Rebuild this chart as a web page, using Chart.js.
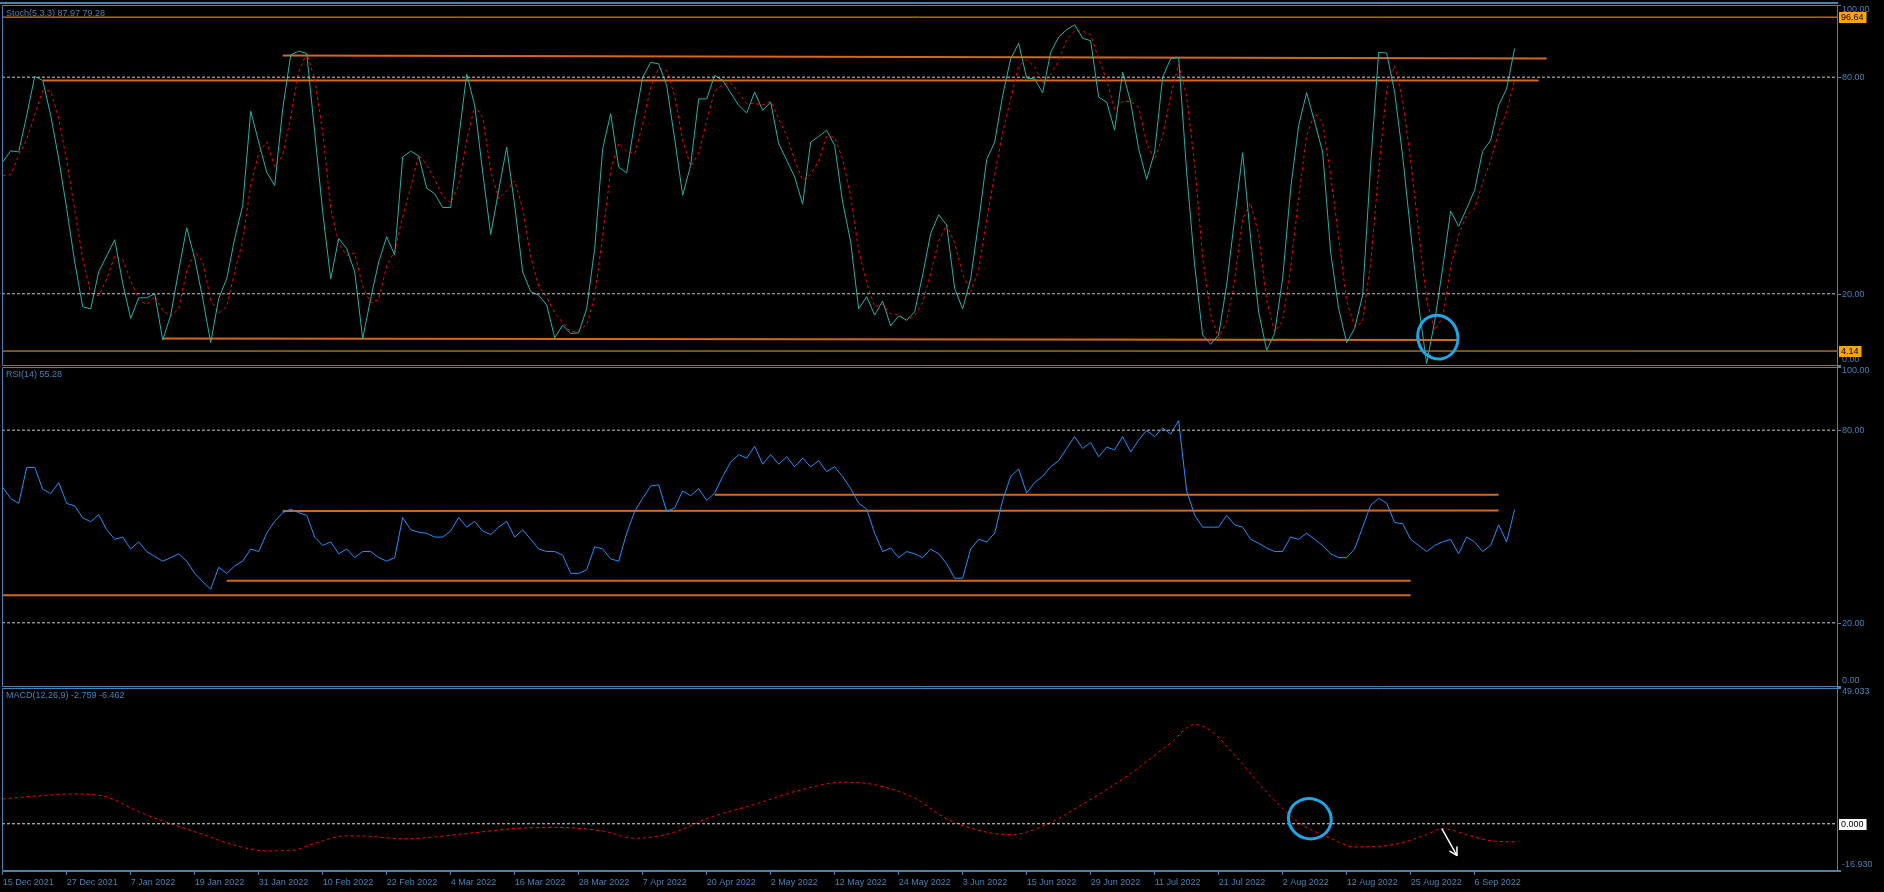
<!DOCTYPE html>
<html>
<head>
<meta charset="utf-8">
<title>Stoch / RSI / MACD</title>
<script src="https://cdn.jsdelivr.net/npm/chart.js@4.4.1/dist/chart.umd.min.js"></script>
<style>
  html, body { margin: 0; padding: 0; background: #000; overflow: hidden; }
  canvas { display: block; }
</style>
</head>
<body>
<canvas id="chart" width="1884" height="892"></canvas>
<script>
// Date labels, one every 8 bars
const dateLabels = [
    "15 Dec 2021", "27 Dec 2021", "7 Jan 2022", "19 Jan 2022", "31 Jan 2022", "10 Feb 2022",
    "22 Feb 2022", "4 Mar 2022", "16 Mar 2022", "28 Mar 2022", "7 Apr 2022", "20 Apr 2022",
    "2 May 2022", "12 May 2022", "24 May 2022", "3 Jun 2022", "15 Jun 2022", "29 Jun 2022",
    "11 Jul 2022", "21 Jul 2022", "2 Aug 2022", "12 Aug 2022", "25 Aug 2022", "6 Sep 2022"
];
const BARS_PER_LABEL = 8;

// Stochastic %K (main) and %D (signal), one value per bar
const stochMain = [
    56.5, 59.6, 59.3, 69.4, 80.2, 79.1, 69.4, 57.4, 43.6, 28.8,
    16.4, 15.8, 26.1, 30.5, 35.0, 22.9, 13.2, 18.9, 18.9, 20.0,
    7.2, 14.1, 26.5, 38.3, 29.8, 18.7, 6.5, 18.7, 24.2, 35.3,
    44.5, 70.6, 62.0, 53.7, 50.0, 71.2, 86.2, 87.2, 86.6, 64.8,
    42.7, 24.1, 35.3, 32.5, 26.1, 7.6, 18.7, 28.8, 35.8, 30.7,
    57.9, 59.5, 58.2, 49.3, 47.7, 43.9, 43.9, 62.9, 80.9, 72.2,
    53.7, 36.4, 48.7, 60.6, 44.5, 26.1, 20.6, 19.6, 16.9, 7.8,
    11.3, 9.0, 9.2, 15.9, 32.5, 60.2, 69.9, 55.1, 53.5, 67.6,
    80.0, 84.1, 83.7, 77.7, 62.9, 47.3, 55.6, 74.0, 74.0, 80.5,
    79.1, 75.7, 72.2, 70.1, 75.9, 70.8, 73.1, 61.6, 57.0, 52.4,
    44.8, 62.0, 63.6, 65.3, 61.1, 45.4, 34.4, 15.8, 19.2, 14.1,
    18.0, 11.1, 13.9, 12.7, 15.0, 25.2, 36.7, 41.9, 39.0, 21.5,
    15.8, 24.2, 39.9, 57.2, 62.0, 74.9, 85.1, 89.4, 79.8, 79.5,
    75.7, 86.9, 91.1, 93.2, 94.5, 90.8, 90.1, 74.5, 73.1, 65.3,
    81.4, 73.1, 60.2, 51.7, 59.3, 80.0, 85.1, 85.5, 53.7, 27.9,
    8.6, 6.0, 8.6, 22.4, 40.8, 59.1, 35.3, 15.0, 4.4, 9.0,
    24.2, 49.1, 66.6, 75.7, 67.6, 59.3, 31.6, 15.9, 6.5, 10.4,
    19.6, 55.6, 86.9, 86.7, 75.9, 58.3, 37.1, 16.9, 0.7, 12.3,
    27.0, 42.9, 38.7, 43.6, 48.7, 59.5, 62.5, 72.2, 76.8, 87.97
];
const stochSignal = [
    52.8, 53.0, 58.5, 62.8, 69.6, 76.2, 76.2, 68.6, 56.8, 43.3,
    29.6, 20.3, 19.4, 24.1, 30.5, 29.5, 23.7, 18.3, 17.0, 19.3,
    15.4, 13.8, 15.9, 26.3, 31.5, 28.9, 18.3, 14.6, 16.5, 26.1,
    34.7, 50.1, 59.0, 62.1, 55.2, 58.3, 69.1, 81.5, 86.7, 79.5,
    64.7, 43.9, 34.0, 30.6, 31.3, 22.1, 17.5, 18.4, 27.8, 31.8,
    41.5, 49.4, 58.5, 55.7, 51.7, 47.0, 45.2, 50.2, 62.6, 72.0,
    68.9, 54.1, 46.3, 48.6, 51.3, 43.7, 30.4, 22.1, 19.0, 14.8,
    12.0, 9.4, 9.8, 11.4, 19.2, 36.2, 54.2, 61.7, 59.5, 58.7,
    67.0, 77.2, 82.6, 81.8, 74.8, 62.6, 55.3, 59.0, 67.9, 76.2,
    77.9, 78.4, 75.7, 72.7, 72.7, 72.3, 73.3, 68.5, 63.9, 57.0,
    51.4, 53.1, 56.8, 63.6, 63.3, 57.3, 47.0, 31.9, 23.1, 16.4,
    17.1, 14.4, 14.3, 12.6, 13.9, 17.6, 25.6, 34.6, 39.2, 34.1,
    25.4, 20.5, 26.6, 40.4, 53.0, 64.7, 74.0, 83.1, 84.8, 82.9,
    78.3, 80.7, 84.6, 90.4, 92.9, 92.8, 91.8, 85.1, 79.2, 71.0,
    73.3, 73.3, 71.6, 61.7, 57.1, 63.7, 74.8, 83.5, 74.8, 55.7,
    30.1, 14.2, 7.7, 12.3, 23.9, 40.8, 45.1, 36.5, 18.2, 9.5,
    12.5, 27.4, 46.6, 63.8, 70.0, 67.5, 52.8, 35.6, 18.0, 10.9,
    12.2, 28.5, 54.0, 76.4, 83.2, 73.6, 57.1, 37.4, 18.2, 10.0,
    13.3, 27.4, 36.2, 41.7, 43.7, 50.6, 56.9, 64.7, 70.5, 79.28
];

// RSI(14), one value per bar
const rsiValues = [
    62.2, 58.7, 57.2, 68.4, 68.4, 61.6, 60.3, 63.7, 57.2, 56.4,
    52.7, 51.5, 53.7, 49.0, 46.0, 46.7, 43.0, 45.2, 42.2, 40.7,
    39.2, 40.3, 41.5, 39.2, 35.4, 32.8, 30.5, 37.3, 35.4, 37.7,
    39.2, 43.0, 42.2, 47.9, 51.6, 54.3, 55.4, 54.3, 53.5, 46.7,
    44.1, 45.2, 41.5, 43.0, 40.3, 42.2, 42.2, 40.3, 39.2, 40.3,
    52.8, 49.0, 48.2, 47.9, 46.7, 46.7, 48.6, 52.8, 49.8, 51.6,
    48.6, 47.5, 49.8, 51.6, 46.7, 49.0, 46.0, 43.0, 42.2, 42.2,
    41.1, 35.4, 35.4, 36.5, 43.7, 43.0, 39.9, 39.2, 47.9, 54.7,
    58.8, 62.6, 63.0, 54.7, 55.8, 61.1, 59.6, 61.8, 58.1, 60.4,
    65.6, 70.1, 72.4, 71.3, 75.0, 69.4, 72.4, 69.4, 71.7, 68.6,
    71.3, 68.6, 70.5, 67.1, 68.6, 65.6, 61.8, 57.3, 55.4, 47.9,
    42.2, 43.3, 40.3, 42.2, 41.5, 40.3, 43.0, 41.5, 38.4, 33.9,
    33.9, 43.0, 46.0, 45.2, 47.9, 58.1, 65.6, 67.9, 60.4, 63.7,
    65.6, 68.6, 70.5, 74.3, 78.0, 74.3, 76.2, 71.7, 74.7, 73.9,
    78.0, 73.2, 76.9, 79.9, 78.0, 80.7, 78.8, 83.0, 61.1, 53.5,
    49.8, 49.8, 49.8, 53.5, 50.5, 49.8, 46.0, 44.8, 43.3, 42.2,
    42.2, 46.7, 46.0, 47.9, 46.0, 44.1, 41.5, 40.3, 40.3, 43.0,
    49.8, 56.6, 58.8, 57.3, 51.2, 50.9, 46.0, 44.1, 42.2, 44.1,
    45.2, 46.0, 41.5, 46.7, 45.2, 42.2, 44.1, 50.5, 45.2, 55.28
];

// MACD signal line, read at these bars
const macdBars = [
    0, 4, 9, 13, 17, 21, 25, 29, 33, 36, 39, 43, 46, 50, 58, 64, 69, 75, 79, 84,
    88, 94, 100, 105, 109, 114, 118, 123, 126, 130, 135, 141, 146, 149, 151, 154,
    158, 162, 166, 169, 174, 178, 180, 183, 186, 189
];
const macdSignal = [
    8.9, 9.9, 10.7, 9.6, 4.3, 0.0, -3.8, -7.7, -9.7, -9.6, -7.0, -4.3, -4.5, -5.4, -3.5, -1.7, -1.3, -2.6, -5.2, -3.0,
    1.8, 7.0, 12.3, 14.9, 14.0, 9.2, 1.8, -3.0, -3.9, -0.9, 7.0, 18.0, 29.0, 35.6, 33.4, 24.6,
    11.4, 0.5, -5.2, -8.3, -7.4, -3.9, -1.7, -3.9, -6.1, -6.462
];

// Indicator levels and drawn objects (bar, value)
const stochLevels = [20, 80];
const rsiLevels = [20, 80];
const macdLevels = [0];
const stochHLines = [96.64, 4.14];
// [startBar, startValue, endBar, endValue]
const stochTrendLines = [[5, 79.1, 192, 79.1], [35, 86.0, 193, 85.2], [20, 7.6, 182, 7.2]];
const rsiTrendLines = [[89, 59.9, 187, 59.9], [35, 54.8, 187, 55.0], [28, 33.1, 176, 33.1], [0, 28.6, 176, 28.6]];
const stochCircle = { bar: 179.4, value: 8.0 };
const macdCircle = { bar: 163.4, value: 1.8 };
const macdArrow = { fromBar: 179.9, fromValue: -1.7, toBar: 181.8, toValue: -11.4 };

const AXIS = "#4682B4";
const FONT_FAMILY = '"Liberation Sans", Arial, sans-serif';
const FONT = "9px " + FONT_FAMILY;
const X_MIN = -0.09;
const X_MAX = 229.3;

const panes = [
    { axis: "yStoch", title: "Stoch(5,3,3) 87.97 79.28", labels: [100, 80, 20, 0], digits: 2,
      boxes: [{ value: 96.64, text: "96.64", bg: "#FFA500" }, { value: 4.14, text: "4.14", bg: "#FFA500" }] },
    { axis: "yRsi", title: "RSI(14) 55.28", labels: [100, 80, 20, 0], digits: 2, boxes: [] },
    { axis: "yMacd", title: "MACD(12,26,9) -2.759 -6.462", labels: [49.033, -16.93], digits: 3,
      boxes: [{ value: 0, text: "0.000", bg: "#FFFFFF" }] }
];

function series(values, axis, color, dash) {
    return {
        data: values.map((v, i) => ({ x: i, y: v })),
        yAxisID: axis, borderColor: color, borderWidth: 1, borderDash: dash || []
    };
}
function hLine(value, axis, color, width, dash) {
    return {
        data: [{ x: X_MIN, y: value }, { x: X_MAX, y: value }],
        yAxisID: axis, borderColor: color, borderWidth: width, borderDash: dash || []
    };
}
function segment(t, axis) {
    return {
        data: [{ x: t[0], y: t[1] }, { x: t[2], y: t[3] }],
        yAxisID: axis, borderColor: "#D2691E", borderWidth: 2
    };
}

const datasets = [];
stochLevels.forEach(v => datasets.push(hLine(v, "yStoch", "#C8C8C8", 1, [3, 2])));
rsiLevels.forEach(v => datasets.push(hLine(v, "yRsi", "#C8C8C8", 1, [3, 2])));
macdLevels.forEach(v => datasets.push(hLine(v, "yMacd", "#E0E0E0", 1, [3, 2])));
datasets.push(series(stochMain, "yStoch", "#20B2AA"));
datasets.push(series(stochSignal, "yStoch", "#FF0000", [3, 3]));
datasets.push(series(rsiValues, "yRsi", "#1E90FF"));
datasets.push({
    data: macdBars.map((b, i) => ({ x: b, y: macdSignal[i] })),
    yAxisID: "yMacd", borderColor: "#FF0000", borderWidth: 1, borderDash: [3, 3],
    cubicInterpolationMode: "monotone"
});
stochHLines.forEach(v => datasets.push(hLine(v, "yStoch", "#FFA500", 1)));
stochTrendLines.forEach(t => datasets.push(segment(t, "yStoch")));
rsiTrendLines.forEach(t => datasets.push(segment(t, "yRsi")));

function paneAxis(weight, min, max) {
    return {
        type: "linear", position: "right", stack: "panes", stackWeight: weight,
        min: min, max: max,
        grid: { display: false },
        border: { display: true, color: AXIS, width: 1 },
        ticks: { display: false },
        afterFit: s => { s.width = 47; }
    };
}

// Frame, price labels, titles and hand-drawn marks
const terminalPlugin = {
    id: "terminal",
    beforeDraw(chart) {
        const ctx = chart.ctx;
        ctx.save();
        ctx.fillStyle = "#000";
        ctx.fillRect(0, 0, chart.width, chart.height);
        ctx.restore();
    },
    afterDraw(chart) {
        const { ctx, chartArea: ca } = chart;
        const line = (x1, y1, x2, y2) => {
            ctx.beginPath(); ctx.moveTo(x1, y1); ctx.lineTo(x2, y2); ctx.stroke();
        };
        ctx.save();
        ctx.strokeStyle = AXIS;
        ctx.lineWidth = 1;
        ctx.fillStyle = AXIS;
        ctx.fillRect(0, 2, ca.right + 1, 2);

        panes.forEach((p, i) => {
            const s = chart.scales[p.axis];
            const top = i === 0 ? Math.round(s.top) + 0.5 : Math.round(s.top) + 1.5;
            const bottom = Math.round(s.bottom) - 0.5;
            ctx.strokeStyle = AXIS;
            line(ca.left + 0.5, top, ca.right + 4, top);
            line(ca.left + 0.5, bottom, ca.right + 4, bottom);
            line(ca.left + 0.5, top, ca.left + 0.5, bottom);

            ctx.font = FONT;
            ctx.textBaseline = "middle";
            ctx.textAlign = "left";
            p.labels.forEach(v => {
                const y = Math.round(s.getPixelForValue(v)) + 0.5;
                line(ca.right, y, ca.right + 4, y);
                const ty = Math.min(Math.max(y, s.top + 5), s.bottom - 6);
                ctx.fillStyle = AXIS;
                ctx.fillText(v.toFixed(p.digits), ca.right + 5, ty);
            });
            p.boxes.forEach(b => {
                const y = Math.round(s.getPixelForValue(b.value));
                const w = ctx.measureText(b.text).width + 5;
                ctx.fillStyle = b.bg;
                ctx.fillRect(ca.right + 2, y - 5, w, 11);
                ctx.fillStyle = "#000";
                ctx.fillText(b.text, ca.right + 4, y + 0.5);
            });
            ctx.fillStyle = AXIS;
            ctx.fillText(p.title, ca.left + 4, s.top + 9);
        });

        const x = chart.scales.x;
        const ellipse = (c, axis, rx, ry, rot) => {
            const s = chart.scales[axis];
            ctx.beginPath();
            ctx.ellipse(x.getPixelForValue(c.bar), s.getPixelForValue(c.value), rx, ry, rot, 0, Math.PI * 2);
            ctx.stroke();
        };
        ctx.strokeStyle = "#1BA8E8";
        ctx.lineWidth = 3;
        ellipse(stochCircle, "yStoch", 20, 22, -0.24);
        ellipse(macdCircle, "yMacd", 21.5, 20, 0.3);

        const ym = chart.scales.yMacd;
        const x1 = x.getPixelForValue(macdArrow.fromBar), y1 = ym.getPixelForValue(macdArrow.fromValue);
        const x2 = x.getPixelForValue(macdArrow.toBar), y2 = ym.getPixelForValue(macdArrow.toValue);
        const ang = Math.atan2(y2 - y1, x2 - x1);
        ctx.strokeStyle = "#FFFFFF";
        ctx.lineWidth = 1.5;
        line(x1, y1, x2, y2);
        line(x2, y2, x2 - 9 * Math.cos(ang - 0.5), y2 - 9 * Math.sin(ang - 0.5));
        line(x2, y2, x2 - 9 * Math.cos(ang + 0.5), y2 - 9 * Math.sin(ang + 0.5));
        ctx.restore();
    }
};

new Chart(document.getElementById("chart"), {
    type: "line",
    data: { datasets: datasets },
    options: {
        responsive: false,
        animation: false,
        events: [],
        layout: { padding: { top: 5, left: 2, right: 0, bottom: 0 } },
        elements: { point: { radius: 0 }, line: { tension: 0 } },
        plugins: { legend: { display: false }, tooltip: { enabled: false } },
        scales: {
            x: {
                type: "linear", position: "bottom", min: X_MIN, max: X_MAX,
                afterBuildTicks: s => { s.ticks = dateLabels.map((_, i) => ({ value: i * BARS_PER_LABEL })); },
                afterFit: s => { s.height = 21; },
                grid: { display: true, drawOnChartArea: false, drawTicks: true, tickLength: 4, tickColor: AXIS, color: AXIS },
                border: { display: true, color: AXIS, width: 1 },
                ticks: {
                    color: AXIS, font: { family: FONT_FAMILY, size: 9 }, align: "start",
                    maxRotation: 0, autoSkip: false, padding: 2,
                    callback: v => dateLabels[Math.round(v / BARS_PER_LABEL)] || ""
                }
            },
            yStoch: paneAxis(361, 0, 100),
            yRsi: paneAxis(321, 0, 100),
            yMacd: paneAxis(184, -16.93, 49.033)
        }
    },
    plugins: [terminalPlugin]
});
</script>
</body>
</html>
